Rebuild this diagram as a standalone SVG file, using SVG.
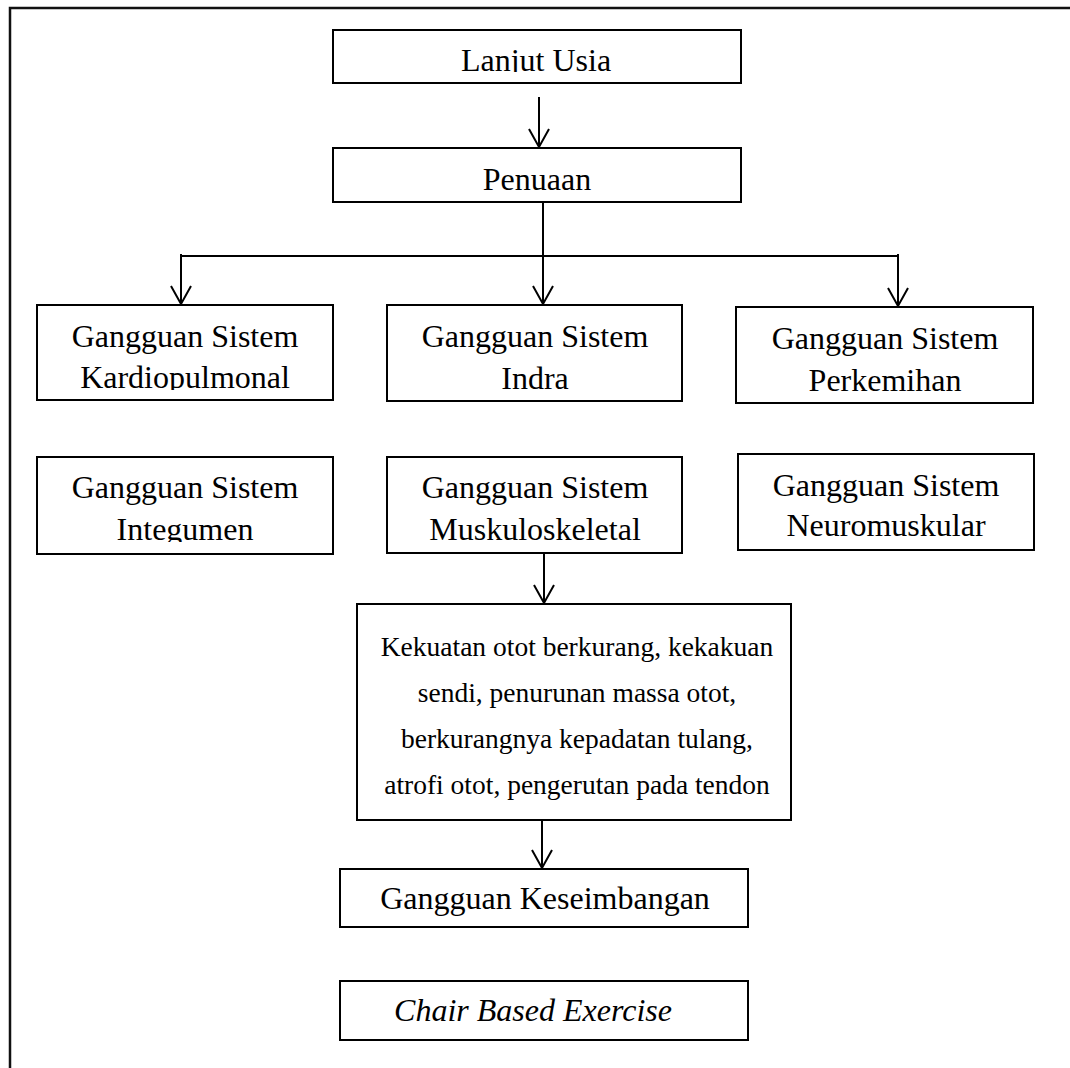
<svg xmlns="http://www.w3.org/2000/svg" width="1070" height="1068" viewBox="0 0 1070 1068">
<style>
.box{fill:#fff;stroke:#000;stroke-width:2}
.t{font-family:"Liberation Serif","Times New Roman",serif;font-size:32px;fill:#000;text-anchor:middle}
.s{font-size:27.5px}
.i{font-style:italic}
.c{fill:none;stroke:#000;stroke-width:2}
.frame{fill:none;stroke:#111;stroke-width:2.5}
</style>
<defs>
<marker id="arr" viewBox="0 0 20 22" refX="19" refY="11" markerWidth="20" markerHeight="22" markerUnits="userSpaceOnUse" orient="auto" overflow="visible">
<path d="M1,1 L19,11 L1,21" fill="none" stroke="#000" stroke-width="2"/>
</marker>
<clipPath id="clipLanjut"><rect x="333" y="30" width="408" height="42"/></clipPath>
<clipPath id="clipKardio"><rect x="37" y="305" width="296" height="85"/></clipPath>
<clipPath id="clipInteg"><rect x="37" y="457" width="296" height="85"/></clipPath>
</defs>
<rect width="1070" height="1068" fill="#fff"/>
<g id="frame">
<path class="frame" d="M10,1068 L10,8 L1070,8"/>
</g>
<g id="connectors">
<line class="c" x1="539" y1="97" x2="539" y2="147" marker-end="url(#arr)"/>
<line class="c" x1="543" y1="202" x2="543" y2="304" marker-end="url(#arr)"/>
<line class="c" x1="181" y1="256" x2="898" y2="256"/>
<line class="c" x1="181" y1="254" x2="181" y2="304" marker-end="url(#arr)"/>
<line class="c" x1="898" y1="254" x2="898" y2="306" marker-end="url(#arr)"/>
<line class="c" x1="544" y1="553" x2="544" y2="603" marker-end="url(#arr)"/>
<line class="c" x1="542" y1="821" x2="542" y2="868" marker-end="url(#arr)"/>
</g>
<g id="lanjut-usia">
<rect class="box" x="333" y="30" width="408" height="53"/>
<text class="t" x="536" y="71" clip-path="url(#clipLanjut)">Lanjut Usia</text>
</g>
<g id="penuaan">
<rect class="box" x="333" y="148" width="408" height="54"/>
<text class="t" x="537" y="190">Penuaan</text>
</g>
<g id="kardiopulmonal">
<rect class="box" x="37" y="305" width="296" height="95"/>
<g clip-path="url(#clipKardio)">
<text class="t" x="185" y="347">Gangguan Sistem</text>
<text class="t" x="185" y="388">Kardiopulmonal</text>
</g>
</g>
<g id="indra">
<rect class="box" x="387" y="305" width="295" height="96"/>
<text class="t" x="535" y="347">Gangguan Sistem</text>
<text class="t" x="535" y="389">Indra</text>
</g>
<g id="perkemihan">
<rect class="box" x="736" y="307" width="297" height="96"/>
<text class="t" x="885" y="349">Gangguan Sistem</text>
<text class="t" x="885" y="391">Perkemihan</text>
</g>
<g id="integumen">
<rect class="box" x="37" y="457" width="296" height="97"/>
<g clip-path="url(#clipInteg)">
<text class="t" x="185" y="498">Gangguan Sistem</text>
<text class="t" x="185" y="540">Integumen</text>
</g>
</g>
<g id="muskuloskeletal">
<rect class="box" x="387" y="457" width="295" height="96"/>
<text class="t" x="535" y="498">Gangguan Sistem</text>
<text class="t" x="535" y="540">Muskuloskeletal</text>
</g>
<g id="neuromuskular">
<rect class="box" x="738" y="454" width="296" height="96"/>
<text class="t" x="886" y="496">Gangguan Sistem</text>
<text class="t" x="886" y="536">Neuromuskular</text>
</g>
<g id="efek-muskuloskeletal">
<rect class="box" x="357" y="604" width="434" height="216"/>
<text class="t s" x="577" y="656">Kekuatan otot berkurang, kekakuan</text>
<text class="t s" x="577" y="702">sendi, penurunan massa otot,</text>
<text class="t s" x="577" y="748">berkurangnya kepadatan tulang,</text>
<text class="t s" x="577" y="794">atrofi otot, pengerutan pada tendon</text>
</g>
<g id="gangguan-keseimbangan">
<rect class="box" x="340" y="869" width="408" height="58"/>
<text class="t" x="545" y="909">Gangguan Keseimbangan</text>
</g>
<g id="chair-based-exercise">
<rect class="box" x="340" y="981" width="408" height="59"/>
<text class="t i" x="533" y="1021">Chair Based Exercise</text>
</g>
</svg>
